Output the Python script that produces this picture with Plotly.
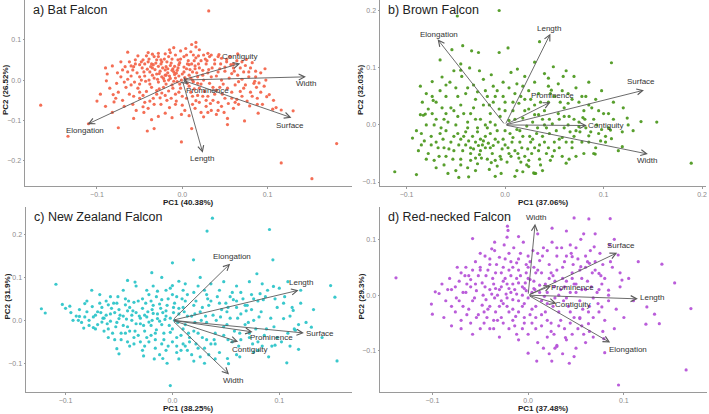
import plotly.graph_objects as go

# ---------------- DATA ----------------
variables = ["Contiguity", "Width", "Prominence", "Surface", "Length", "Elongation"]

panel_titles = ["a) Bat Falcon", "b) Brown Falcon", "c) New Zealand Falcon", "d) Red-necked Falcon"]
pc1_titles = ["PC1 (40.38%)", "PC1 (37.06%)", "PC1 (38.25%)", "PC1 (37.48%)"]
pc2_titles = ["PC2 (26.52%)", "PC2 (32.03%)", "PC2 (31.9%)", "PC2 (29.3%)"]

bat_points = [
    (0.031,0.171),(0.016,0.093),(0.011,0.088),(-0.064,0.069),(-0.035,0.064),(-0.014,0.068),(0.030,0.066),(0.032,0.058),
    (0.042,0.058),(0.052,0.051),(0.075,0.051),(0.082,0.043),(0.097,0.028),(0.092,0.018),(0.086,0.008),(0.098,0.000),
    (0.096,-0.015),(0.087,-0.018),(0.099,-0.041),(0.107,-0.050),(0.116,-0.074),(0.130,-0.076),(0.106,-0.072),(0.110,-0.068),
    (0.089,-0.082),(0.073,-0.101),(0.079,-0.064),(0.064,-0.048),(0.053,-0.095),(0.053,-0.110),(0.042,-0.075),(0.034,-0.075),
    (0.025,-0.091),(0.016,-0.051),(0.011,-0.120),(-0.001,-0.153),(-0.012,-0.093),(-0.033,-0.120),(-0.036,-0.098),(-0.041,-0.126),
    (-0.045,-0.080),(-0.046,-0.066),(-0.057,-0.095),(-0.075,-0.118),(-0.082,-0.080),(-0.080,-0.054),(-0.089,-0.002),(-0.100,-0.052),
    (-0.096,-0.035),(-0.081,-0.036),(-0.077,-0.008),(-0.110,-0.108),(-0.134,-0.139),(-0.166,-0.062),(0.181,-0.157),(0.116,-0.205),
    (0.152,-0.244),(-0.076,0.018),(-0.067,0.033),(-0.057,0.033),(0.080,-0.030),(0.070,-0.040),(0.062,-0.055),(0.072,-0.020),
    (0.088,-0.045),(0.078,0.020),(0.068,0.030),(0.060,0.040),(0.085,-0.003),(0.092,-0.030),(0.102,-0.036),(0.094,-0.060),
    (-0.010,0.020),(-0.005,0.030),(-0.015,0.010),(-0.020,0.025),(-0.008,0.005),(0.000,0.015),(0.005,0.028),(-0.025,0.040),
    (-0.030,0.015),(-0.018,0.045),(-0.012,0.052),(-0.003,0.043),(0.008,0.038),(0.012,0.020),(0.018,0.008),(0.015,0.035),
    (0.022,0.048),(-0.035,0.030),(-0.040,0.045),(-0.045,0.020),(-0.050,0.038),(-0.055,0.050),(-0.060,0.010),(-0.048,0.000),
    (-0.038,-0.010),(-0.028,-0.005),(-0.022,-0.018),(-0.012,-0.012),(-0.002,-0.020),(0.006,-0.008),(0.010,-0.030),(0.020,-0.020),
    (0.025,0.000),(0.030,0.018),(0.035,0.030),(0.040,0.010),(0.045,0.040),(0.050,0.022),(0.055,0.005),(0.048,-0.010),
    (0.040,-0.025),(0.030,-0.040),(0.020,-0.055),(0.005,-0.045),(-0.008,-0.035),(-0.018,-0.050),(-0.030,-0.035),(-0.042,-0.028),
    (-0.052,-0.020),(-0.062,-0.035),(-0.068,-0.005),(-0.070,0.025),(-0.062,0.045),(-0.042,0.060),(-0.028,0.058),(-0.020,0.065),
    (-0.008,0.062),(0.002,0.058),(0.010,0.070),(0.025,0.062),(0.038,0.050),(0.060,0.030),(0.065,0.012),(0.062,-0.012),
    (0.058,-0.030),(0.050,-0.045),(0.042,-0.055),(0.028,-0.065),(0.015,-0.070),(0.000,-0.062),(-0.015,-0.068),(-0.025,-0.060),
    (-0.038,-0.052),(-0.050,-0.045),(-0.058,-0.060),(-0.070,-0.050),(-0.075,-0.030),(-0.085,-0.020),(-0.088,0.015),(-0.082,0.035),
    (-0.014,0.036),(-0.006,0.024),(-0.016,0.000),(-0.024,0.008),(-0.030,0.050),(0.003,0.006),(0.007,0.048),(0.016,0.055),
    (0.020,0.030),(0.028,0.040),(-0.004,0.038),(-0.011,0.028),(-0.019,0.033),(-0.026,0.022),(-0.033,0.005),(-0.009,0.014),
    (-0.001,0.000),(0.013,-0.004),(0.022,-0.010),(0.032,-0.008),(0.036,-0.018),(0.044,0.028),(0.052,0.045),(0.058,0.016),
    (0.070,0.002),(0.074,-0.012),(0.068,-0.028),(0.054,-0.058),(0.046,-0.065),(0.036,-0.050),(0.012,-0.060),(-0.004,-0.030),
    (-0.013,-0.045),(-0.034,-0.045),(-0.046,-0.038),(-0.056,-0.005),(-0.064,0.020),(-0.052,0.060),(-0.036,0.040),(-0.044,0.010),
    (-0.017,0.018),(-0.022,0.004),(-0.006,-0.004),(0.002,0.032),(0.009,0.026),(0.017,0.018),(0.024,0.024),(-0.013,0.042),
    (-0.021,0.052),(-0.032,0.026),(-0.038,0.020),(-0.027,-0.022),(-0.016,-0.027),(-0.007,-0.052),(0.003,-0.075),(0.018,-0.038),
    (0.026,-0.028),(0.033,-0.058),(0.047,-0.035),(0.064,0.048),(0.056,0.058),(0.046,0.054),(-0.058,0.025),(-0.066,-0.018),
    (-0.072,0.008),(-0.078,-0.045),(-0.054,-0.075),(-0.040,-0.070),(-0.020,-0.082),(0.008,-0.088),(0.022,-0.080),(0.040,-0.085),
    (0.060,-0.070),(0.076,-0.052),(0.084,-0.008),(0.080,0.030),(0.086,0.022),(0.070,0.045),(0.004,0.078),(-0.002,0.072),
    (-0.046,0.050),(-0.010,0.080),(0.020,0.075),
    (-0.012,0.024),(-0.007,0.017),(-0.019,0.012),(-0.023,0.030),(-0.028,0.034),(-0.031,0.042),(-0.037,0.033),(-0.041,0.027),
    (-0.047,0.030),(-0.053,0.018),(-0.050,0.008),(-0.043,-0.003),(-0.036,-0.018),(-0.030,-0.026),(-0.024,-0.032),(-0.019,-0.010),
    (-0.011,-0.020),(-0.003,-0.010),(0.004,0.002),(0.008,0.012),(0.011,0.040),(0.014,0.048),(0.019,0.040),(0.024,0.012),
    (0.027,0.052),(0.031,0.026),(0.034,0.008),(0.038,0.040),(0.042,0.020),(0.046,0.000),(0.050,0.032),(0.053,-0.020),
    (0.057,0.038),(0.061,0.022),(0.066,-0.004),(0.044,-0.018),(0.038,-0.035),(0.028,-0.050),(0.024,-0.040),(0.014,-0.022),
    (0.008,-0.015),(0.000,-0.040),(-0.008,-0.060),(-0.020,-0.038),(-0.026,-0.044),(-0.033,-0.060),(-0.044,-0.055),(-0.050,-0.030),
    (-0.057,-0.040),(-0.060,-0.012),(-0.064,0.002),(-0.060,0.035),(-0.055,0.040),(-0.048,0.045),(-0.039,0.052),(-0.033,0.058),
    (-0.025,0.050),(-0.016,0.058),(-0.005,0.050),(0.005,0.062),(0.013,0.062),(0.019,0.060),(0.029,0.048),(0.034,0.062),
    (-0.028,0.066),(-0.040,0.068),(-0.015,0.075),(0.016,0.082),(-0.020,0.012),(-0.014,0.004),(-0.004,0.010),(0.002,0.020),
    (-0.009,0.034),(-0.017,0.028),(-0.027,0.016),(-0.035,0.012),(-0.029,0.002),(-0.021,-0.002),(-0.010,-0.003),(0.010,0.005),
    (0.015,0.028),(0.006,0.040),(-0.002,0.052),(-0.024,0.045),(-0.034,0.038),(-0.044,0.040),(0.072,0.020),(0.078,0.008),
    (0.074,0.036),(0.088,-0.060),(0.082,-0.040),(0.058,-0.045),(0.066,-0.060),(0.049,-0.080),(0.030,-0.080),(0.012,-0.040),
    (-0.001,-0.085),(-0.028,-0.090),(-0.050,-0.010),(-0.068,-0.065),(-0.090,-0.065),(-0.072,0.045),(-0.090,0.030),(0.012,0.000),
    (0.018,-0.008),(-0.039,0.000),(0.043,0.063),(0.065,0.065),(0.090,-0.007),
]

brown_points = [
    (-0.006,0.2006),(-0.0485,0.191),(0.035,0.146),(0.003,0.135),(-0.006,0.127),(-0.043,0.139),(-0.034,0.130),(-0.027,0.127),
    (-0.054,0.132),(-0.066,0.114),(-0.045,0.107),(-0.045,0.096),(-0.074,0.076),(-0.064,0.084),(-0.086,0.068),(-0.073,0.043),
    (-0.081,0.019),(-0.083,0.017),(-0.094,-0.023),(-0.112,-0.082),(-0.090,-0.087),(-0.047,-0.092),(-0.037,-0.091),(0.029,-0.084),
    (0.031,-0.085),(0.024,-0.073),(0.062,-0.067),(0.0915,-0.051),(0.108,-0.024),(0.119,-0.038),(0.119,-0.012),(0.138,0.006),
    (0.154,0.005),(0.189,-0.067),(0.108,0.109),(0.062,0.095),(0.059,0.085),(0.049,0.102),(0.0125,0.098),(0.047,0.061),
    (0.064,0.038),(0.124,0.012),(0.098,-0.008),(0.107,-0.009),(0.102,-0.020),(0.079,0.013),(0.075,-0.003),(0.085,-0.019),
    (0.068,-0.030),(0.058,-0.022),
    (-0.060,0.020),(-0.055,0.030),(-0.070,0.010),(-0.065,-0.005),(-0.075,-0.020),(-0.080,0.000),(-0.085,-0.035),(-0.078,-0.050),
    (-0.068,-0.040),(-0.060,-0.055),(-0.052,-0.045),(-0.045,-0.060),(-0.040,-0.035),(-0.035,-0.050),(-0.030,-0.030),(-0.025,-0.045),
    (-0.020,-0.020),(-0.015,-0.040),(-0.010,-0.025),(-0.005,-0.055),(0.000,-0.035),(0.005,-0.015),(0.010,-0.045),(0.015,-0.030),
    (0.020,-0.055),(0.025,-0.020),(0.030,-0.040),(0.035,-0.060),(0.040,-0.030),(0.045,-0.015),(0.050,-0.045),(0.055,-0.025),
    (0.060,-0.005),(0.065,0.015),(0.070,-0.020),(0.075,0.005),(0.080,0.025),(0.085,-0.030),(0.090,0.010),(0.095,-0.015),
    (0.100,0.020),(0.105,-0.005),(0.110,0.010),(0.088,0.030),(0.075,0.040),(0.060,0.030),(0.050,0.050),(0.040,0.025),
    (0.030,0.035),(0.020,0.045),(0.010,0.055),(0.000,0.040),(-0.010,0.050),(-0.020,0.060),(-0.030,0.045),(-0.040,0.055),
    (-0.050,0.065),(-0.060,0.050),(-0.070,0.040),(-0.045,0.035),(-0.035,0.020),(-0.025,0.010),(-0.015,0.020),(-0.005,0.015),
    (0.008,0.025),(0.018,0.012),(0.028,0.005),(0.038,0.010),(0.048,0.002),(-0.048,-0.015),(-0.038,-0.005),(-0.028,-0.012),
    (-0.018,-0.005),(-0.008,-0.010),(0.012,-0.008),(0.022,-0.002),(-0.055,-0.030),(-0.062,-0.070),(-0.050,-0.080),(-0.038,-0.075),
    (-0.028,-0.068),(-0.018,-0.060),(-0.008,-0.072),(0.002,-0.065),(0.012,-0.080),(0.022,-0.070),(0.030,-0.085),(0.042,-0.050),
    (0.058,-0.055),(0.068,-0.040),(0.078,-0.030),(-0.072,-0.062),(-0.082,-0.028),(-0.090,-0.010),(-0.086,0.018),(-0.078,0.028),
    (-0.066,0.060),(-0.056,0.075),(-0.044,0.085),(-0.032,0.070),(-0.022,0.080),(-0.012,0.068),(-0.002,0.075),(0.012,0.072),
    (0.024,0.060),(0.034,0.055),(0.044,0.068),(0.054,0.072),(0.064,0.055),(0.072,0.065),(0.082,0.050),(0.092,0.045),
    (-0.033,-0.020),(-0.023,-0.035),(-0.013,-0.050),(-0.003,-0.042),(0.007,-0.030),(0.017,-0.040),(0.027,-0.050),(-0.043,-0.045),
    (-0.053,-0.060),(-0.063,-0.025),(-0.058,0.005),(-0.048,0.015),(-0.038,0.005),(-0.016,0.035),(-0.006,0.028),(0.004,0.008),
    (0.014,0.038),(0.024,0.028),(0.034,0.018),(0.044,0.040),(0.054,0.020),(0.064,0.000),(0.072,-0.010),(0.082,-0.005),
    (0.092,-0.040),(0.102,-0.030),(0.062,-0.030),(0.052,-0.010),(0.042,-0.005),(0.032,-0.015),(-0.030,-0.058),(-0.020,-0.040),
    (-0.010,-0.062),(-0.045,-0.025),(-0.035,-0.040),(-0.025,-0.025),(-0.015,-0.015),(-0.026,-0.052),(0.006,-0.055),(0.016,-0.065),
    (0.026,-0.030),(0.036,-0.070),(0.046,-0.062),(0.018,-0.082),(-0.004,-0.085),(-0.016,-0.078),(-0.066,-0.015),(-0.074,0.050),
    (-0.084,0.040),(-0.026,0.095),(-0.014,0.088),(0.006,0.092),(0.020,0.085),(0.030,0.110),(0.040,0.090),(-0.036,0.100),
    (-0.052,0.095),(0.070,0.085),(0.085,0.075),(0.098,0.060),(0.110,0.040),(0.120,0.030),(0.130,-0.010),(0.115,-0.045),
    (-0.042,-0.020),(-0.037,-0.028),(-0.032,-0.042),(-0.027,-0.036),(-0.022,-0.028),(-0.017,-0.032),(-0.012,-0.036),(-0.007,-0.030),
    (-0.002,-0.025),(0.003,-0.040),(0.008,-0.022),(0.013,-0.050),(0.018,-0.020),(0.023,-0.042),(0.028,-0.025),(-0.047,-0.035),
    (-0.052,-0.020),(-0.057,-0.042),(-0.062,-0.040),(-0.067,-0.055),(-0.045,-0.070),(-0.035,-0.062),(-0.024,-0.058),(-0.014,-0.066),
    (-0.004,-0.060),(0.004,-0.050),(0.014,-0.058),(0.024,-0.062),(0.034,-0.045),(0.044,-0.040),(0.050,-0.030),(0.038,-0.020),
    (0.033,-0.005),(0.045,0.010),(0.055,0.010),(0.060,0.015),(0.070,0.010),(0.066,-0.012),(0.076,-0.012),(0.081,0.010),
    (0.087,-0.012),(0.093,0.000),(0.097,-0.028),(0.090,-0.050),(0.080,-0.050),(0.072,-0.055),(0.048,-0.055),(0.038,-0.080),
    (0.010,-0.090),(-0.010,-0.090),(-0.030,-0.080),(-0.058,-0.085),(-0.070,-0.075),(-0.080,-0.060),(-0.088,-0.045),(-0.075,-0.035),
    (-0.085,-0.015),(-0.072,0.000),(-0.062,0.010),(-0.052,0.025),(-0.042,0.020),(-0.032,0.030),(-0.022,0.035),(-0.012,0.040),
    (-0.002,0.050),(0.008,0.040),(0.016,0.050),(0.026,0.045),(0.036,0.040),(0.046,0.055),(0.056,0.040),(0.068,0.045),
    (0.078,0.050),(-0.064,0.030),(-0.074,0.020),(-0.080,0.055),(-0.060,0.070),(-0.048,0.050),(-0.038,0.065),(-0.028,0.058),
    (-0.018,0.050),(-0.008,0.060),(0.004,0.065),(0.018,0.068),(0.030,0.075),(0.044,0.082),(0.058,0.060),(-0.028,-0.005),
    (-0.040,-0.012),(-0.050,0.000),(-0.010,0.000),(0.000,-0.010),(0.010,0.010),(0.020,0.025),(0.030,0.018),(0.040,0.000),
    (0.015,-0.010),(-0.020,0.000),(-0.030,0.010),(-0.060,-0.010),(-0.070,-0.030),(0.000,0.025),(-0.015,0.005),(0.035,-0.035),
    (0.055,-0.040),(0.065,-0.060),(0.085,0.035),(0.095,0.025),(0.105,0.020),(0.125,0.000),
]

nz_points = [
    (0.0374,0.238),(0.0908,0.2116),(0.0324,0.2078),(0.0197,0.141),(0.094,0.141),(0.000,0.134),(-0.0193,0.111),(-0.109,0.084),
    (0.079,0.1085),(0.0945,0.079),(0.148,0.081),(0.152,0.054),(-0.042,0.093),(-0.035,0.089),(0.006,0.091),(0.000,0.081),
    (-0.1226,0.027),(-0.119,0.017),(-0.103,0.037),(-0.096,0.033),(-0.093,0.000),(-0.087,0.009),(-0.082,0.039),(-0.0755,0.070),
    (-0.074,-0.017),(-0.052,-0.066),(-0.050,-0.078),(-0.042,-0.050),(-0.027,-0.083),(-0.017,-0.090),(-0.009,-0.089),(-0.002,-0.152),
    (0.0515,-0.089),(0.0525,-0.101),(0.107,-0.099),(0.118,-0.0675),(0.154,-0.0946),(0.096,-0.058),(0.076,-0.074),(0.063,-0.085),
    (0.074,0.025),(0.104,0.004),(0.113,0.023),(0.115,-0.023),(0.130,-0.016),(0.085,0.048),
    (-0.090,0.010),(-0.085,-0.005),(-0.080,0.020),(-0.078,0.000),(-0.072,0.012),(-0.070,-0.010),(-0.066,0.030),(-0.064,0.005),
    (-0.060,-0.020),(-0.058,0.015),(-0.055,0.040),(-0.052,-0.005),(-0.050,0.025),(-0.048,-0.030),(-0.046,0.010),(-0.044,0.050),
    (-0.042,-0.015),(-0.040,0.030),(-0.038,0.000),(-0.036,-0.040),(-0.034,0.018),(-0.032,0.045),(-0.030,-0.008),(-0.028,0.028),
    (-0.026,-0.025),(-0.024,0.008),(-0.022,0.060),(-0.020,-0.012),(-0.018,0.035),(-0.016,-0.045),(-0.014,0.015),(-0.012,-0.002),
    (-0.010,0.048),(-0.008,-0.030),(-0.006,0.022),(-0.004,-0.060),(-0.002,0.005),(0.000,-0.020),(0.002,0.040),(0.004,-0.040),
    (0.006,0.015),(0.008,-0.070),(0.010,0.030),(0.012,-0.010),(0.014,0.060),(0.016,-0.050),(0.018,0.010),(0.020,-0.025),
    (0.022,0.045),(0.024,-0.065),(0.026,0.020),(0.028,-0.040),(0.030,0.070),(0.032,-0.005),(0.034,0.035),(0.036,-0.055),
    (0.038,0.012),(0.040,-0.030),(0.042,0.055),(0.044,-0.075),(0.046,0.025),(0.048,-0.015),(0.050,0.040),(0.052,-0.045),
    (0.054,0.005),(0.056,0.065),(0.058,-0.025),(0.060,0.030),(0.062,-0.060),(0.064,0.015),(0.066,0.050),(0.068,-0.010),
    (0.070,0.035),(0.072,-0.040),(0.074,0.060),(0.076,0.000),(0.078,-0.020),(0.080,0.045),(0.083,0.020),(0.086,-0.035),
    (0.089,0.070),(0.092,0.005),(0.095,-0.015),(0.098,0.030),(0.102,-0.050),(0.105,0.055),(0.110,0.010),(0.114,-0.020),
    (0.120,0.040),(0.125,-0.005),(0.132,0.025),(0.140,-0.040),(-0.062,0.045),(-0.054,-0.045),(-0.046,0.070),(-0.040,-0.060),
    (-0.034,0.080),(-0.028,-0.070),(-0.022,-0.050),(-0.018,0.080),(-0.012,-0.080),(-0.006,0.070),(0.000,0.060),(0.006,-0.090),
    (0.012,0.085),(0.018,-0.080),(0.024,0.080),(-0.031,0.010),(-0.027,-0.012),(-0.023,0.020),(-0.019,0.000),(-0.015,-0.022),
    (-0.011,0.028),(-0.007,0.002),(-0.003,-0.012),(0.001,0.018),(0.005,-0.005),(-0.037,0.022),(-0.043,0.003),(-0.049,0.012),
    (-0.053,-0.015),(-0.057,0.028),(-0.061,-0.008),(-0.067,0.018),(-0.075,0.032),(-0.083,-0.018),(-0.087,0.025),(-0.035,-0.025),
    (-0.025,0.040),(-0.015,0.055),(-0.005,0.035),(0.009,0.050),(0.015,-0.030),(0.021,-0.005),(0.027,0.000),(0.033,0.050),
    (0.039,-0.045),(0.045,0.008),(0.051,0.020),(0.057,0.048),(0.063,-0.030),(0.069,0.022),(0.075,-0.055),(0.081,0.008),
    (0.087,0.055),(0.093,-0.060),(0.010,-0.055),(0.004,-0.075),(-0.010,-0.055),(-0.020,-0.035),(-0.030,-0.050),(-0.044,-0.030),
    (-0.058,0.055),(-0.068,0.060),(-0.080,0.045),(0.048,0.090),(0.036,0.085),(0.060,0.080),(0.072,0.090),(0.084,0.085),
    (0.100,0.075),(0.108,0.090),(0.120,0.070),(0.026,0.100),(-0.010,0.100),(0.030,-0.100),(0.040,-0.090),(0.020,-0.095),
    (-0.005,-0.100),(0.060,-0.080),(0.080,-0.070),(0.090,-0.085),(0.110,-0.060),
    (-0.030,0.005),(-0.026,0.012),(-0.022,-0.004),(-0.018,0.016),(-0.014,0.004),(-0.010,-0.010),(-0.006,0.010),(-0.002,-0.028),
    (0.002,0.000),(0.006,0.028),(0.010,-0.020),(0.014,0.010),(-0.034,-0.008),(-0.038,0.012),(-0.042,0.022),(-0.046,-0.012),
    (-0.050,0.004),(-0.054,0.018),(-0.058,-0.002),(-0.062,0.012),(-0.066,-0.004),(-0.070,0.020),(-0.074,0.008),(-0.078,-0.012),
    (-0.082,0.008),(-0.068,0.040),(-0.060,0.036),(-0.052,0.040),(-0.044,0.036),(-0.036,0.042),(-0.028,0.050),(-0.020,0.045),
    (-0.012,0.038),(-0.004,0.050),(0.004,0.055),(0.012,0.045),(0.020,0.035),(0.028,0.030),(0.036,0.045),(0.044,0.040),
    (0.052,0.030),(0.060,0.045),(0.068,0.035),(0.076,0.050),(-0.040,-0.025),(-0.032,-0.035),(-0.024,-0.040),(-0.016,-0.030),
    (-0.008,-0.045),(0.000,-0.050),(0.008,-0.035),(0.016,-0.040),(0.024,-0.030),(0.032,-0.045),(0.040,-0.055),(0.048,-0.035),
    (0.056,-0.050),(0.064,-0.045),(0.072,-0.030),(0.080,-0.050),(0.088,-0.020),(-0.048,-0.045),(-0.056,-0.030),(-0.064,-0.025),
    (-0.072,-0.020),(-0.060,-0.040),(-0.036,-0.055),(-0.026,-0.060),(-0.016,-0.065),(-0.006,-0.070),(0.004,-0.060),(0.014,-0.070),
    (0.022,-0.055),(0.030,-0.065),(0.034,-0.080),(0.026,-0.085),(0.012,-0.060),(-0.024,0.070),(-0.014,0.068),(-0.002,0.075),
    (0.010,0.070),(0.020,0.065),(0.032,0.060),(0.044,0.070),(0.054,0.055),(0.064,0.065),(0.082,0.062),(0.096,0.050),
    (0.104,0.040),(0.112,0.030),(0.118,-0.010),(0.108,-0.030),(0.098,-0.040),(0.084,-0.060),(-0.019,0.025),(-0.009,0.018),
    (0.001,0.030),(0.011,0.020),(0.021,0.015),(0.031,0.010),(0.041,0.000),(0.051,-0.010),(0.061,0.005),(0.071,-0.005),
    (-0.041,0.045),(-0.051,0.055),(-0.065,0.005),(-0.088,0.000),(-0.095,0.018),(-0.100,0.028),
]

red_points = [
    (-0.138,0.031),(-0.097,0.006),(-0.093,0.003),(-0.101,-0.016),(-0.100,-0.034),(-0.080,-0.055),(-0.058,0.1015),(-0.0216,0.1236),
    (-0.021,0.116),(-0.022,0.104),(-0.035,0.095),(-0.038,0.083),(0.048,0.1385),(0.0634,0.1367),(0.0857,0.137),(0.058,0.110),
    (0.069,0.0866),(0.094,0.072),(0.1397,0.0555),(0.153,0.022),(0.170,-0.024),(0.124,-0.021),(0.132,-0.034),(0.123,-0.052),
    (0.137,-0.051),(0.165,-0.134),(0.0944,-0.161),(0.080,-0.103),(0.079,-0.078),(0.063,-0.051),(0.054,-0.042),(0.043,-0.122),
    (0.0247,-0.118),(0.009,-0.118),(0.000,-0.104),(0.030,-0.092),(0.027,-0.070),(0.039,-0.076),(0.077,-0.021),(0.084,0.009),
    (0.098,0.027),(0.074,0.039),(0.064,0.057),(0.055,0.051),(0.046,0.069),
    (-0.080,0.010),(-0.075,-0.005),(-0.072,0.025),(-0.068,-0.020),(-0.065,0.005),(-0.062,0.035),(-0.058,-0.010),(-0.055,0.020),
    (-0.052,-0.035),(-0.050,0.045),(-0.047,0.000),(-0.045,0.015),(-0.042,-0.025),(-0.040,0.055),(-0.037,0.030),(-0.035,-0.005),
    (-0.032,-0.045),(-0.030,0.010),(-0.028,0.040),(-0.026,-0.015),(-0.024,0.065),(-0.022,0.020),(-0.020,-0.030),(-0.018,0.005),
    (-0.016,0.050),(-0.014,-0.055),(-0.012,0.030),(-0.010,-0.010),(-0.008,0.075),(-0.006,0.015),(-0.004,-0.040),(-0.002,0.040),
    (0.000,-0.005),(0.002,0.060),(0.004,-0.025),(0.006,0.025),(0.008,-0.060),(0.010,0.045),(0.012,0.005),(0.014,-0.035),
    (0.016,0.085),(0.018,0.020),(0.020,-0.015),(0.022,0.055),(0.024,-0.050),(0.026,0.035),(0.028,-0.005),(0.030,0.070),
    (0.032,-0.030),(0.034,0.010),(0.036,0.050),(0.038,-0.060),(0.040,0.025),(0.042,-0.020),(0.044,0.090),(0.046,0.040),
    (0.048,-0.040),(0.050,0.005),(0.052,0.065),(0.054,-0.010),(0.056,0.030),(0.058,-0.070),(0.060,0.050),(0.063,-0.030),
    (0.066,0.015),(0.070,0.060),(0.073,-0.015),(0.076,0.035),(0.080,-0.045),(0.084,0.000),(0.088,0.050),(0.092,-0.025),
    (-0.034,0.012),(-0.030,-0.020),(-0.026,0.025),(-0.022,-0.005),(-0.018,0.035),(-0.014,0.010),(-0.010,0.022),(-0.006,-0.020),
    (-0.002,0.008),(0.002,0.028),(-0.038,0.002),(-0.044,0.035),(-0.048,-0.018),(-0.054,0.008),(-0.060,0.028),(-0.064,-0.035),
    (-0.070,0.040),(-0.076,-0.030),(-0.082,0.030),(-0.086,-0.010),(-0.040,-0.060),(-0.030,-0.075),(-0.020,-0.060),(-0.010,-0.080),
    (0.000,-0.070),(0.010,-0.085),(0.020,-0.075),(0.030,-0.090),(0.040,-0.080),(0.050,-0.095),(0.060,-0.085),(0.028,-0.095),
    (0.036,-0.105),(0.048,-0.110),(-0.050,-0.060),(-0.060,-0.050),(-0.070,-0.045),(-0.045,0.070),(-0.035,0.080),(-0.025,0.090),
    (-0.015,0.085),(-0.005,0.095),(0.005,0.080),(0.015,0.070),(0.025,0.095),(0.035,0.085),(0.045,0.075),(0.055,0.100),
    (0.065,0.080),(0.075,0.075),(0.085,0.090),(-0.055,0.060),(-0.065,0.050),(-0.020,0.045),(-0.012,0.058),(0.000,0.050),
    (0.012,0.062),(0.024,0.040),(0.036,0.030),(0.048,0.020),(0.060,0.010),(0.072,0.005),(0.084,-0.010),(0.096,0.015),
    (0.100,-0.040),(0.105,0.030),(0.110,-0.010),(0.115,0.060),(-0.028,-0.040),(-0.016,-0.025),(-0.004,-0.050),(0.008,-0.040),
    (0.020,-0.045),(0.032,-0.055),(0.044,-0.050),(0.056,-0.055),(0.068,-0.040),(0.078,-0.065),(0.068,-0.075),(0.090,-0.060),
    (-0.043,-0.040),(-0.033,0.055),(-0.023,0.002),(-0.013,-0.038),(-0.003,0.022),(0.007,0.010),(0.017,-0.002),(0.027,0.015),
    (0.037,-0.010),(0.047,0.055),(0.057,-0.025),(0.067,0.040),(0.077,0.020),(-0.090,0.020),(-0.088,-0.040),(0.025,0.120),
    (0.010,0.110),(-0.010,0.105),(0.040,0.115),(0.070,0.110),(0.090,0.100),
    (-0.040,0.010),(-0.036,0.020),(-0.032,0.000),(-0.028,0.015),(-0.024,0.030),(-0.020,0.012),(-0.016,0.020),(-0.012,0.002),
    (-0.008,0.035),(-0.004,0.012),(0.000,0.030),(0.004,0.005),(0.008,0.040),(0.012,0.018),(-0.044,-0.008),(-0.048,0.022),
    (-0.052,0.035),(-0.056,-0.005),(-0.060,0.015),(-0.064,0.020),(-0.068,0.005),(-0.072,-0.010),(-0.076,0.015),(-0.046,-0.030),
    (-0.040,-0.020),(-0.034,-0.030),(-0.028,-0.010),(-0.022,-0.020),(-0.016,-0.008),(-0.010,-0.030),(-0.004,-0.015),(0.002,-0.035),
    (0.008,-0.020),(0.014,-0.010),(0.020,0.005),(0.026,-0.020),(0.032,0.000),(0.038,0.015),(0.044,0.005),(0.050,0.020),
    (0.056,0.010),(0.062,0.025),(0.068,-0.005),(0.074,0.010),(0.080,0.030),(-0.050,0.050),(-0.042,0.045),(-0.034,0.040),
    (-0.026,0.050),(-0.018,0.060),(-0.010,0.045),(-0.002,0.055),(0.006,0.050),(0.014,0.040),(0.022,0.030),(0.030,0.045),
    (0.038,0.060),(0.046,0.030),(0.054,0.045),(0.062,0.060),(0.070,0.045),(0.078,0.055),(-0.058,0.045),(-0.066,0.035),
    (-0.074,0.050),(-0.062,-0.025),(-0.054,-0.040),(-0.046,-0.050),(-0.036,-0.045),(-0.026,-0.050),(-0.016,-0.045),(-0.006,-0.060),
    (0.004,-0.050),(0.014,-0.055),(0.024,-0.065),(0.034,-0.045),(0.044,-0.030),(0.054,-0.040),(0.064,-0.020),(0.074,-0.030),
    (-0.030,0.068),(-0.020,0.075),(-0.010,0.065),(0.000,0.070),(0.010,0.075),(0.020,0.080),(0.030,0.085),(0.040,0.070),
    (0.050,0.085),(0.060,0.070),(-0.040,0.065),(-0.050,0.075),(-0.006,0.000),(0.006,0.012),(0.018,-0.030),(0.028,0.025),
    (0.040,-0.005),(0.052,-0.060),(0.064,-0.065),(0.046,-0.070),(-0.080,-0.020),(-0.084,0.010),(-0.070,-0.060),(-0.058,-0.070),
    (-0.036,-0.060),(-0.012,-0.070),(0.016,-0.095),(0.022,-0.105),(0.086,0.060),(0.096,0.040),
]

# loadings (arrow tips) in order of `variables`
bat_load_x = [0.068, 0.145, 0.007, 0.128, 0.024, -0.111]
bat_load_y = [0.041, 0.008, -0.010, -0.093, -0.180, -0.109]
brown_load_x = [0.083, 0.145, 0.046, 0.141, 0.046, -0.0685]
brown_load_y = [-0.001, -0.051, 0.040, 0.061, 0.160, 0.150]
nz_load_x = [0.0615, 0.053, 0.075, 0.123, 0.118, 0.054]
nz_load_y = [-0.050, -0.126, -0.027, -0.0295, 0.070, 0.132]
red_load_x = [0.0296, 0.0073, 0.024, 0.093, 0.1146, 0.0857]
red_load_y = [-0.015, 0.128, 0.017, 0.076, -0.0066, -0.085]

x_ticks = [[-0.1, 0.0, 0.1], [-0.1, 0.0, 0.1, 0.2], [-0.1, 0.0, 0.1], [-0.1, 0.0, 0.1]]
y_ticks = [[-0.2, -0.1, 0.0, 0.1], [-0.1, 0.0, 0.1, 0.2], [-0.1, 0.0, 0.1, 0.2], [-0.1, 0.0, 0.1]]

# ---------------- STYLE / LAYOUT ----------------
W, H = 709, 414
FONT = "Liberation Sans, Arial, sans-serif"
colors = ["#F3664C", "#4F9A22", "#2EC5C9", "#B654D8"]

# plot-area rectangles in pixels: (left, right, top, bottom)
rects = [(25, 352, 0, 186), (380, 706, 0, 186), (26, 352, 207, 392), (380, 707, 207, 392)]
x_ranges = [[-0.1844, 0.199], [-0.127, 0.204], [-0.137, 0.168], [-0.1547, 0.1868]]
y_ranges = [[-0.262, 0.198], [-0.107, 0.219], [-0.167, 0.264], [-0.1735, 0.158]]

# label offsets (px) relative to arrow tip, in order of `variables`
label_shifts = [
    [(0, 7), (0, -7), (19, -6), (-1, -8), (-1, -6), (-3, -6)],
    [(19, 0), (-1, -6), (2, 7), (-3, 9), (-1, 5), (1, 5)],
    [(12, -8), (4, -6), (19, -6), (16, -1), (2, 8), (2, 7)],
    [(17, -1), (1, 6), (21, -2), (4, 7), (14, 1), (18, -7)],
]

points = [bat_points, brown_points, nz_points, red_points]
loads = [(bat_load_x, bat_load_y), (brown_load_x, brown_load_y),
         (nz_load_x, nz_load_y), (red_load_x, red_load_y)]

fig = go.Figure()
annotations = []
layout_axes = {}

for i in range(4):
    sfx = "" if i == 0 else str(i + 1)
    xa, ya = "x" + sfx, "y" + sfx
    l, r, t, b = rects[i]
    pts = points[i]
    fig.add_trace(go.Scatter(
        x=[p[0] for p in pts], y=[p[1] for p in pts], mode="markers",
        marker=dict(size=3.2, color=colors[i], opacity=0.95, line=dict(width=0)),
        xaxis=xa, yaxis=ya, showlegend=False, hoverinfo="skip"))

    axis_common = dict(showgrid=False, zeroline=False, showline=True, linecolor="#9a9a9a", linewidth=1,
                       ticks="outside", ticklen=1.5, tickcolor="#9a9a9a", tickwidth=1,
                       tickfont=dict(family=FONT, size=7, color="#8a8a8a"), tickformat=".1f")
    layout_axes["xaxis" + sfx] = dict(axis_common, domain=[l / W, r / W], range=x_ranges[i],
                                      tickvals=x_ticks[i], anchor=ya)
    layout_axes["yaxis" + sfx] = dict(axis_common, domain=[1 - b / H, 1 - t / H], range=y_ranges[i],
                                      tickvals=y_ticks[i], anchor=xa)

    lx, ly = loads[i]
    for j, name in enumerate(variables):
        annotations.append(dict(x=lx[j], y=ly[j], ax=0, ay=0, xref=xa, yref=ya, axref=xa, ayref=ya,
                                showarrow=True, arrowhead=5, arrowsize=1.3, arrowwidth=0.9,
                                arrowcolor="#5a5a5a", text=""))
        dx, dy = label_shifts[i][j]
        annotations.append(dict(x=lx[j], y=ly[j], xref=xa, yref=ya, text=name, showarrow=False,
                                xshift=dx, yshift=dy, font=dict(family=FONT, size=8, color="#333333")))

    # panel title
    annotations.append(dict(x=(l + 6) / W, y=1 - (t + 10) / H, xref="paper", yref="paper",
                            text=panel_titles[i], showarrow=False, xanchor="left", yanchor="middle",
                            font=dict(family=FONT, size=12.5, color="#222222")))
    # axis titles
    annotations.append(dict(x=(l + r) / 2 / W, y=1 - (b + 16.5) / H, xref="paper", yref="paper",
                            text="<b>" + pc1_titles[i] + "</b>", showarrow=False,
                            xanchor="center", yanchor="middle",
                            font=dict(family=FONT, size=8, color="#222222")))
    annotations.append(dict(x=(l - 19) / W, y=1 - ((t + b) / 2 - 3) / H, xref="paper", yref="paper",
                            text="<b>" + pc2_titles[i] + "</b>", showarrow=False, textangle=-90,
                            xanchor="center", yanchor="middle",
                            font=dict(family=FONT, size=8, color="#222222")))

fig.update_layout(width=W, height=H, margin=dict(l=0, r=0, t=0, b=0),
                  paper_bgcolor="white", plot_bgcolor="white",
                  annotations=annotations, **layout_axes)

fig.write_html("out.html")
